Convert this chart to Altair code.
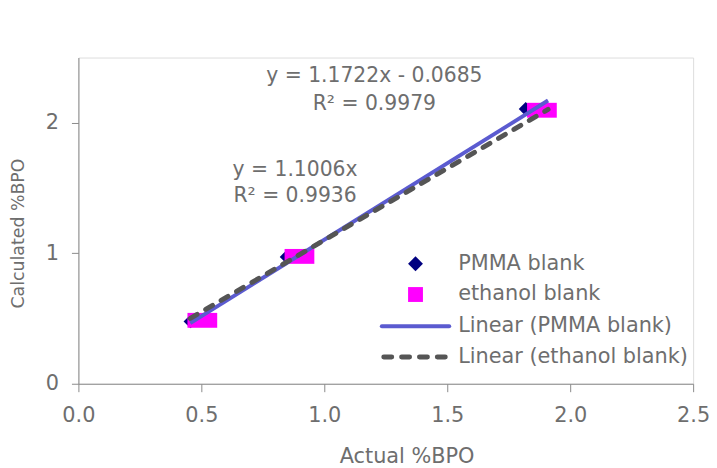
import altair as alt
import pandas as pd

# ---- data ----
pmma_x = [0.456, 0.847, 1.819]
pmma_y = [0.478, 0.972, 2.106]
eth_x = [0.504, 0.899, 1.885]
eth_y = [0.486, 0.976, 2.096]

series_names = ["PMMA blank", "ethanol blank"]
trend_names = ["Linear (PMMA blank)", "Linear (ethanol blank)"]
trend_slope = [1.1722, 1.1006]
trend_intercept = [-0.0685, 0.0]
trend_x_range = [0.455, 1.91]

eq_labels = ["y = 1.1722x - 0.0685", "R² = 0.9979", "y = 1.1006x", "R² = 0.9936"]

x_ticks = [0.0, 0.5, 1.0, 1.5, 2.0, 2.5]
y_ticks = [0, 1, 2]

FONT = "DejaVu Sans"
TXT = "#6e6e6e"
AX = "#8a8a8a"
NAVY = "#000080"
MAGENTA = "#FF00FF"
BLUE = "#5B5BD0"
DARK = "#555555"

pm = pd.DataFrame({"x": pmma_x, "y": pmma_y})
et = pd.DataFrame({"x": eth_x, "y": eth_y})

rows = []
for name, s, b in zip(trend_names, trend_slope, trend_intercept):
    for xv in trend_x_range:
        rows.append({"series": name, "x": xv, "y": s * xv + b})
tr = pd.DataFrame(rows)

xs = alt.Scale(domain=[0, 2.5], nice=False)
ys = alt.Scale(domain=[0, 2.5], nice=False)

xenc = alt.X("x:Q", scale=xs, axis=alt.Axis(
    values=x_ticks, format=".1f", title="Actual %BPO", grid=False, labelFlush=False,
    domainColor=AX, tickColor=AX, tickSize=8, labelColor=TXT, labelFont=FONT,
    labelFontSize=21, labelPadding=13, titleColor=TXT, titleFont=FONT,
    titleFontSize=21, titleFontWeight="normal", titleX=331, titleY=73,
    titleBaseline="middle", titleAlign="center"))
yenc = alt.Y("y:Q", scale=ys, axis=alt.Axis(
    values=y_ticks, format="d", title="Calculated %BPO", grid=False,
    domainColor=AX, tickColor=AX, tickSize=7, labelColor=TXT, labelFont=FONT,
    labelFontSize=21, labelPadding=13, titleColor=TXT, titleFont=FONT,
    titleFontSize=17.5, titleFontWeight="normal", titleX=-60, titleY=177,
    titleBaseline="middle", titleAlign="center", titleAngle=-90))

diam = alt.Chart(pm).mark_point(shape="diamond", filled=True, size=196,
                                 color=NAVY, opacity=1).encode(x=xenc, y=yenc)
rect_shape = "M-1,-0.5L1,-0.5L1,0.5L-1,0.5Z"
sq = alt.Chart(et).mark_point(shape=rect_shape, filled=True, size=900,
                               color=MAGENTA, opacity=1).encode(x="x:Q", y="y:Q")

solid = alt.Chart(tr[tr.series == trend_names[0]]).mark_line(
    color=BLUE, strokeWidth=4).encode(x="x:Q", y="y:Q")
dashed = alt.Chart(tr[tr.series == trend_names[1]]).mark_line(
    color=DARK, strokeWidth=5, strokeDash=[8, 10], strokeCap="round").encode(x="x:Q", y="y:Q")

# equation annotations
ann_x = [298.5, 298.5, 218.5, 218.5]
ann_y = [19, 46.7, 113, 140]
ann = []
for lab, ax_, ay_ in zip(eq_labels, ann_x, ann_y):
    ann.append(alt.Chart(pd.DataFrame({"t": [lab]})).mark_text(
        font=FONT, fontSize=20.5, color=TXT, align="center", baseline="middle").encode(
        text="t:N", x=alt.value(ax_), y=alt.value(ay_)))

# legend
leg_rows = [208, 239, 271, 302]
one = pd.DataFrame({"a": [0]})
leg = [
    alt.Chart(one).mark_point(shape="diamond", filled=True, size=225, color=NAVY, opacity=1).encode(
        x=alt.value(340), y=alt.value(leg_rows[0])),
    alt.Chart(one).mark_point(shape="square", filled=True, size=225, color=MAGENTA, opacity=1).encode(
        x=alt.value(340), y=alt.value(leg_rows[1])),
    alt.Chart(one).mark_rule(color=BLUE, strokeWidth=4, strokeCap="round").encode(
        x=alt.value(306), x2=alt.value(374), y=alt.value(leg_rows[2])),
    alt.Chart(one).mark_rule(color=DARK, strokeWidth=5, strokeDash=[8, 10], strokeCap="round").encode(
        x=alt.value(308), x2=alt.value(374), y=alt.value(leg_rows[3])),
]
for lab, ry in zip(series_names + trend_names, leg_rows):
    leg.append(alt.Chart(pd.DataFrame({"t": [lab]})).mark_text(
        font=FONT, fontSize=21, color=TXT, align="left", baseline="middle").encode(
        text="t:N", x=alt.value(383), y=alt.value(ry)))

chart = alt.layer(diam, sq, solid, dashed, *ann, *leg).properties(
    width=620, height=329,
    autosize=alt.AutoSizeParams(type="none"),
    padding={"left": 71, "top": 48, "right": 16, "bottom": 82},
).configure_view(stroke=None).configure(background="white")

chart.save("out.html", embed_options={"renderer": "svg", "actions": False})
